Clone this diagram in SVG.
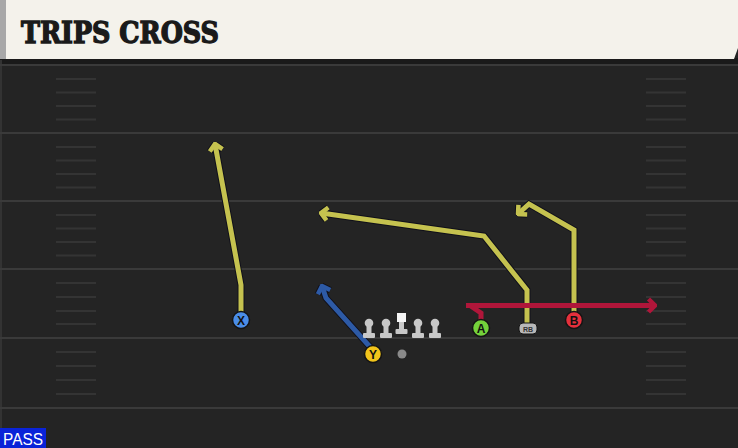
<svg xmlns="http://www.w3.org/2000/svg" width="738" height="448" viewBox="0 0 738 448">
<style>
.yard{stroke:#3a3a3a;stroke-width:2}
.hash{stroke:#343434;stroke-width:2.2}
.out{fill:none;stroke:#10101a;stroke-width:7;stroke-linejoin:miter;stroke-linecap:butt}
.rt{fill:none;stroke-width:5;stroke-linejoin:miter;stroke-linecap:butt}
.yel{stroke:#c5c24f}
.blu{stroke:#2d5aa6}
.red{stroke:#b0163a}
.pl{stroke:#141414;stroke-width:1.5}
.lt{font-family:"Liberation Sans",Arial,sans-serif;font-weight:bold;font-size:12px;fill:#111;text-anchor:middle}
.ol{fill:#c8c8c8}
</style>
<defs>
<marker id="aO" markerUnits="userSpaceOnUse" viewBox="-12 -10 14 20" markerWidth="14" markerHeight="20" refX="0" refY="0" orient="auto">
<path d="M-6.5,-6.5 L0,0 L-6.5,6.5" fill="none" stroke="#10101a" stroke-width="6.5"/>
</marker>
<marker id="aY" markerUnits="userSpaceOnUse" viewBox="-12 -10 14 20" markerWidth="14" markerHeight="20" refX="0" refY="0" orient="auto">
<path d="M-6.5,-6.5 L0,0 L-6.5,6.5" fill="none" stroke="#c5c24f" stroke-width="4.5"/>
</marker>
<marker id="aB" markerUnits="userSpaceOnUse" viewBox="-12 -10 14 20" markerWidth="14" markerHeight="20" refX="0" refY="0" orient="auto">
<path d="M-6.5,-6.5 L0,0 L-6.5,6.5" fill="none" stroke="#2d5aa6" stroke-width="4.5"/>
</marker>
<marker id="aR" markerUnits="userSpaceOnUse" viewBox="-12 -10 14 20" markerWidth="14" markerHeight="20" refX="0" refY="0" orient="auto">
<path d="M-6.5,-6.5 L0,0 L-6.5,6.5" fill="none" stroke="#b0163a" stroke-width="4.5"/>
</marker>
<g id="lineman">
<circle cx="0" cy="-11" r="4.3" class="ol"/>
<rect x="-2.5" y="-9" width="5" height="9" class="ol"/>
<rect x="-6" y="-1" width="12" height="5" rx="1" class="ol"/>
</g>
</defs>
<rect x="0" y="0" width="738" height="448" fill="#242424"/>
<rect x="0" y="58" width="738" height="7" fill="#1a1a1a"/>
<rect x="0" y="60" width="2" height="388" fill="#333"/>
<g id="field">
<line class="yard" x1="0" y1="65" x2="738" y2="65"/>
<line class="yard" x1="0" y1="133" x2="738" y2="133"/>
<line class="yard" x1="0" y1="201" x2="738" y2="201"/>
<line class="yard" x1="0" y1="269" x2="738" y2="269"/>
<line class="yard" x1="0" y1="338" x2="738" y2="338"/>
<line class="yard" x1="0" y1="408" x2="738" y2="408"/>
<g class="hash">
<path d="M56,79H96M56,92.5H96M56,106H96M56,119.5H96M56,147H96M56,160.5H96M56,174H96M56,187.5H96M56,215H96M56,228.5H96M56,242H96M56,255.5H96M56,283H96M56,297H96M56,311H96M56,324H96M56,352H96M56,366H96M56,380H96M56,394H96"/>
<path d="M646,79H686M646,92.5H686M646,106H686M646,119.5H686M646,147H686M646,160.5H686M646,174H686M646,187.5H686M646,215H686M646,228.5H686M646,242H686M646,255.5H686M646,283H686M646,297H686M646,311H686M646,324H686M646,352H686M646,366H686M646,380H686M646,394H686"/>
</g>
</g>
<g id="header">
<polygon points="0,0 738,0 738,48 734,59 0,59" fill="#f4f2eb"/>
<rect x="0" y="0" width="6" height="59" fill="#a8a8a8"/>
<text x="21" y="43" font-family="'DejaVu Serif Condensed','DejaVu Serif',serif" font-weight="bold" font-size="30" fill="#1a1a1a" stroke="#1a1a1a" stroke-width="1.3" textLength="198" lengthAdjust="spacingAndGlyphs">TRIPS CROSS</text>
</g>
<g id="connectors">
<path class="out" d="M241,312 L241,285 L215,144" marker-end="url(#aO)"/>
<path class="rt yel" d="M241,312 L241,285 L215,144" marker-end="url(#aY)"/>
<path class="out" d="M527,323 L527,290 L484,236 L321,213" marker-end="url(#aO)"/>
<path class="rt yel" d="M527,323 L527,290 L484,236 L321,213" marker-end="url(#aY)"/>
<path class="out" d="M574,312 L574,230 L529,204 L518,214" marker-end="url(#aO)"/>
<path class="rt yel" d="M574,312 L574,230 L529,204 L518,214" marker-end="url(#aY)"/>
<path class="out" d="M371,348 L326,298 L322,286" marker-end="url(#aO)"/>
<path class="rt blu" d="M371,348 L326,298 L322,286" marker-end="url(#aB)"/>
<path class="rt red" d="M481,321 L481,313 L470,305.5"/>
<path class="rt red" d="M466,305.5 L655,305.5" marker-end="url(#aR)"/>
</g>
<g id="player-x"><circle cx="241" cy="320" r="8.5" fill="#4a8de8" class="pl"/><text class="lt" x="241" y="324.5">X</text></g>
<g id="player-y"><circle cx="373" cy="354" r="8.5" fill="#f2c41b" class="pl"/><text class="lt" x="373" y="358.5">Y</text></g>
<g id="player-a"><circle cx="481" cy="328" r="8.5" fill="#74d23b" class="pl"/><text class="lt" x="481" y="332.5">A</text></g>
<g id="player-b"><circle cx="574" cy="320" r="8.5" fill="#e5303c" class="pl"/><text class="lt" x="574" y="324.5">B</text></g>
<g id="player-rb"><rect x="519" y="323" width="18" height="11" rx="4" fill="#b8b8b8" stroke="#141414" stroke-width="1"/><text x="528" y="331.5" font-family="'Liberation Sans',Arial,sans-serif" font-weight="bold" font-size="7" fill="#333" text-anchor="middle">RB</text></g>
<g id="lt"><use href="#lineman" x="369" y="334"/></g>
<g id="lg"><use href="#lineman" x="386" y="334"/></g>
<g id="c"><rect x="397" y="313" width="9" height="9" fill="#f4f4f4"/><rect x="399" y="322" width="5" height="8" class="ol"/><rect x="395.5" y="329" width="12" height="5" rx="1" class="ol"/></g>
<g id="rg"><use href="#lineman" x="418" y="334"/></g>
<g id="rt"><use href="#lineman" x="435" y="334"/></g>
<g id="qb"><circle cx="402" cy="354" r="4.5" fill="#8a8a8a"/></g>
<g id="pass"><rect x="0" y="428" width="46" height="20" fill="#0a23d8"/><text x="3" y="445" font-family="'Liberation Sans',Arial,sans-serif" font-size="16" fill="#ffffff" textLength="40" lengthAdjust="spacingAndGlyphs">PASS</text></g>
</svg>
